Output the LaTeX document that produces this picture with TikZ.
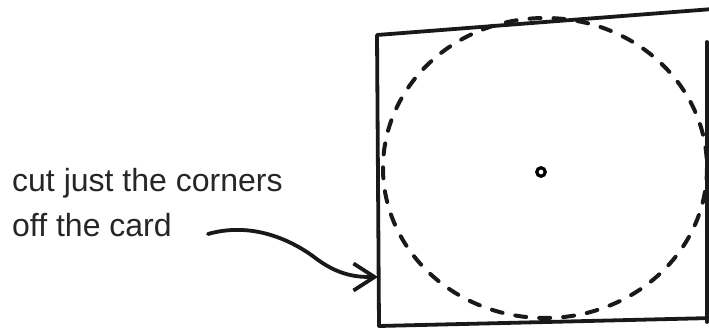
\documentclass[tikz,border=0pt]{standalone}
\usepackage{fontspec}
\setmainfont{Liberation Sans}
\usetikzlibrary{arrows.meta}
\tikzset{
  ink/.style={line width=3.8pt, line cap=round, line join=round, black!90},
  cutline/.style={line width=4pt, black!90, line cap=round, dash pattern=on 11pt off 13pt},
  pointer/.style={ink, -{Straight Barb[length=21pt,width=27pt,line width=3.8pt]}},
  caption/.style={anchor=base west, inner sep=0pt, align=left, font=\fontsize{32}{45}\selectfont, text=black!85}
}
\begin{document}
\begin{tikzpicture}[x=1pt,y=-1pt]
\useasboundingbox (0,0) rectangle (709,328);
% card
\coordinate (tl) at (377,35);
\coordinate (tr) at (713,9);
\coordinate (bl) at (379,326);
\coordinate (br) at (713,318);
\coordinate (rt) at (707,42);
\coordinate (rb) at (707,322);
\draw[ink] (tr) -- (tl) -- (bl) -- (br);
\draw[ink] (rt) -- (rb);
% cut circle
\draw[cutline] (545,168) ellipse [x radius=162, y radius=150];
% centre hole
\node (hole) [circle, draw, line width=3.2pt, minimum size=8.5pt, inner sep=0pt] at (541,172) {};
% label
\node (label) [caption] at (12,237) {cut just the corners\\off the card};
\coordinate (s) at (208,234);
\coordinate (t) at (378,277);
\draw[pointer] (s) .. controls (250,222) and (290,238) .. (318,260) .. controls (342,277) and (360,277) .. (t);
\end{tikzpicture}
\end{document}
